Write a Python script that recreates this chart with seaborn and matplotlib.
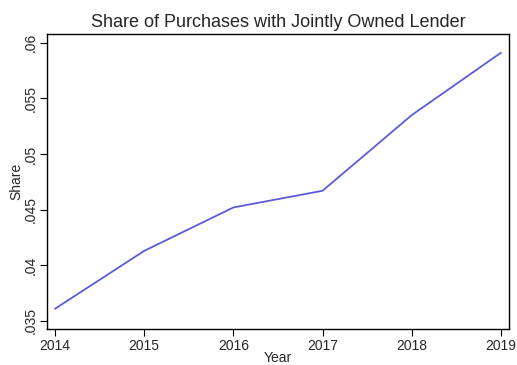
import matplotlib
matplotlib.use("Agg")
import matplotlib.pyplot as plt
import seaborn as sns
import pandas as pd

years = [2014, 2015, 2016, 2017, 2018, 2019]
share = [0.0361, 0.0413, 0.0452, 0.0467, 0.0535, 0.0591]
y_ticks = [0.035, 0.04, 0.045, 0.05, 0.055, 0.06]
y_tick_labels = [".035", ".04", ".045", ".05", ".055", ".06"]

sns.set_style("white")
plt.rcParams["font.family"] = ["Liberation Sans", "DejaVu Sans"]

df = pd.DataFrame({"Year": years, "Share": share})

fig = plt.figure(figsize=(5.17, 3.65), dpi=100)
ax = fig.add_axes([0.0909, 0.0986, 0.8936, 0.8082])
sns.lineplot(data=df, x="Year", y="Share", ax=ax, color="#5b5bdc", linewidth=1.3)

ax.set_xlim(2013.91, 2019.09)
ax.set_ylim(0.03428, 0.06078)
ax.set_xticks(years)
ax.set_xticklabels([str(y) for y in years], fontsize=10)
ax.set_yticks(y_ticks)
ax.set_yticklabels(y_tick_labels, fontsize=10, rotation=90, va="center")
ax.tick_params(axis="both", which="both", direction="out", length=5, width=0.8,
               color="black", left=True, bottom=True, pad=2)
ax.set_xlabel("Year", fontsize=10, labelpad=-1)
ax.set_ylabel("Share", fontsize=10, labelpad=0)
ax.set_title("Share of Purchases with Jointly Owned Lender", fontsize=13, pad=5)
for s in ax.spines.values():
    s.set_color("black")
    s.set_linewidth(1.0)

fig.savefig("out.png", dpi=100)
